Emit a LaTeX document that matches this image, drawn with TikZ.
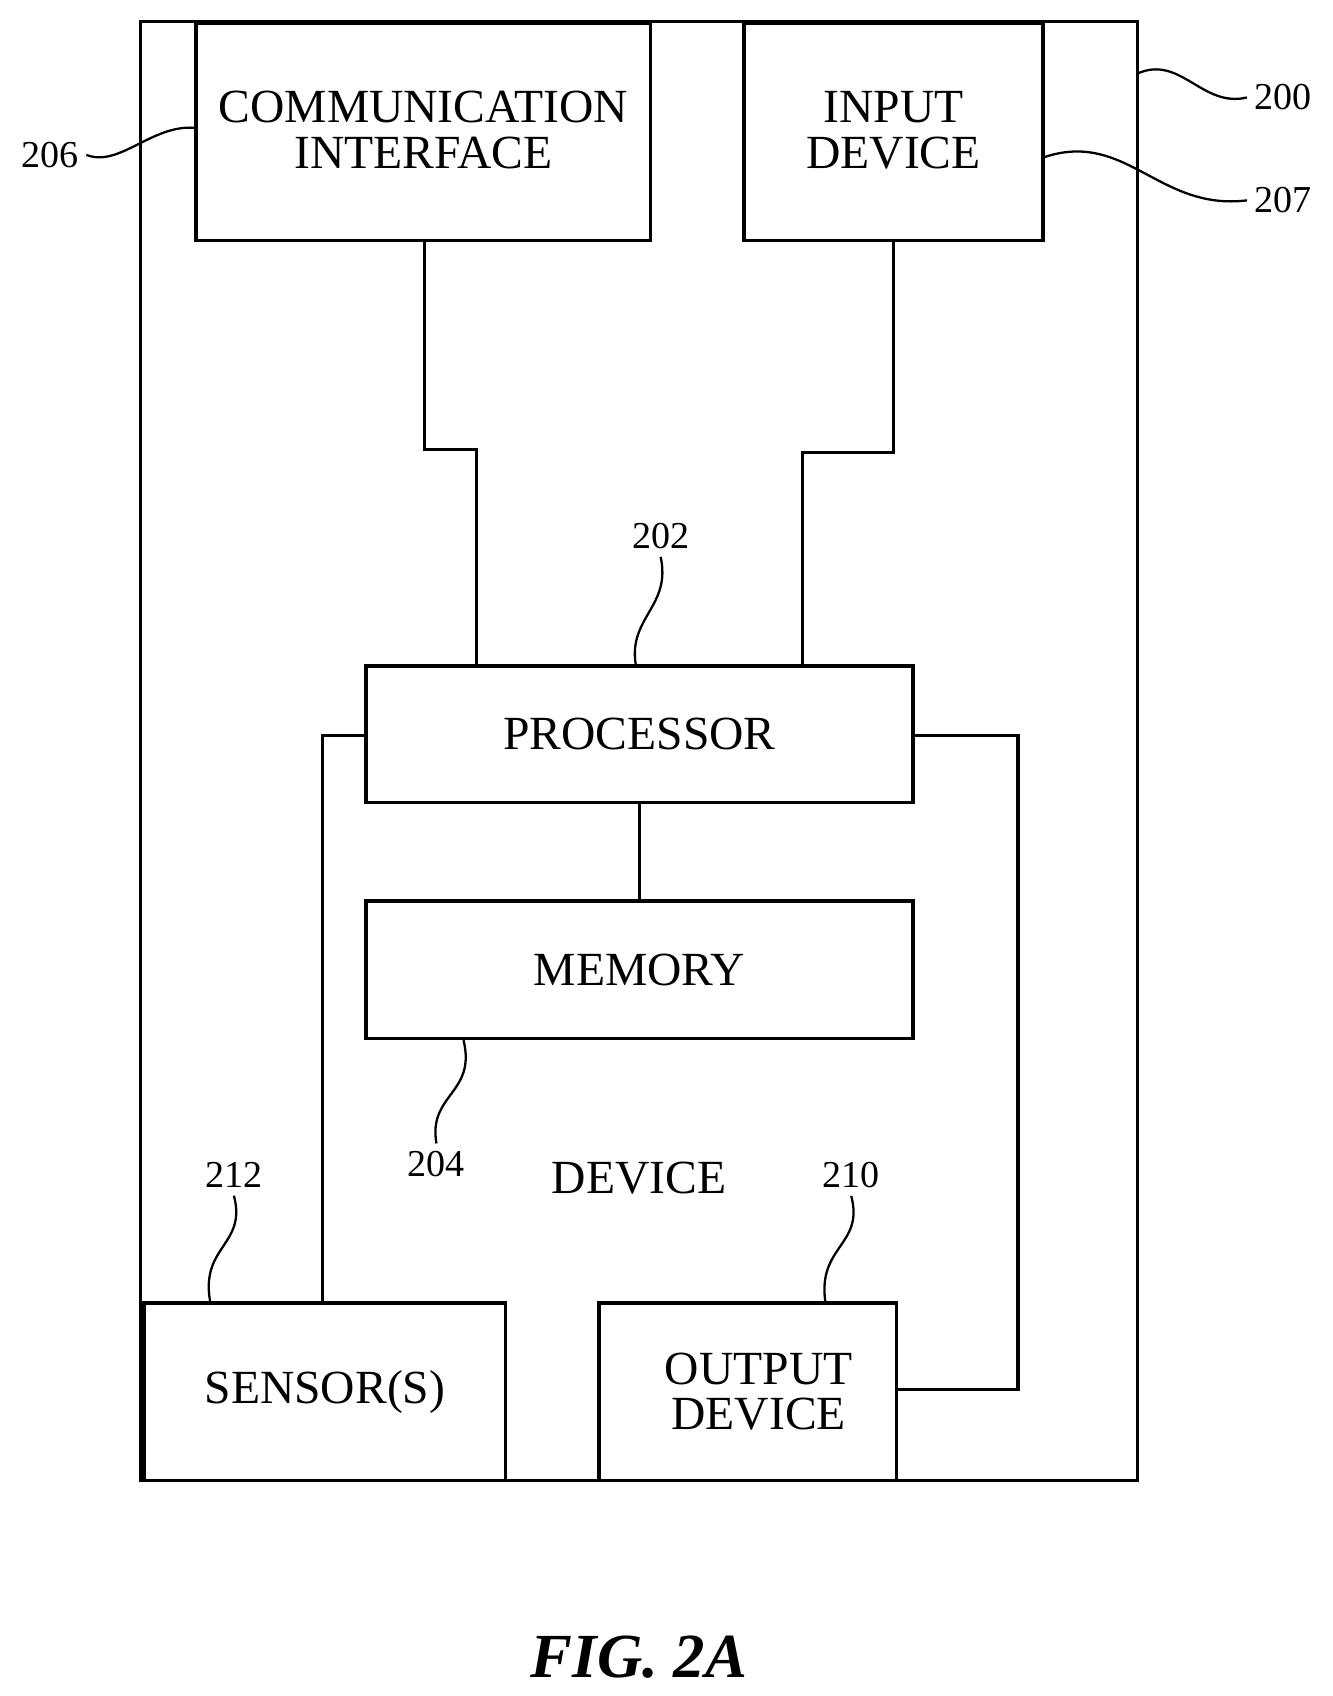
\documentclass[tikz,border=0pt]{standalone}
\usepackage{fontspec}
\setmainfont{Liberation Serif}
\begin{document}
\begin{tikzpicture}[x=0.02cm,y=-0.02cm,line width=1.7pt,
  box/.style={draw,inner sep=0pt,font=\fontsize{25}{24}\selectfont,align=center},
  txt/.style={inner sep=0pt,font=\fontsize{25}{24}\selectfont,align=center},
  lbl/.style={font=\fontsize{20}{22}\selectfont},
  lead/.style={line width=1.2pt}]
    \useasboundingbox (0,0) rectangle (1230,1566);

    \draw (130,20) rectangle (1050,1367); % device

    \node[box,minimum width=8.4cm,minimum height=4cm] (comm) at (391,122) {};
    \node[txt] (commtxt) at (391,120) {COMMUNICATION\\INTERFACE};
    \node[box,minimum width=5.52cm,minimum height=4cm] (inp) at (825,122) {};
    \node[txt] (inptxt) at (825,120) {INPUT\\DEVICE};
    \node[box,minimum width=10.1cm,minimum height=2.52cm] (proc) at (590.5,678) {PROCESSOR};
    \node[box,minimum width=10.1cm,minimum height=2.54cm] (mem) at (590.5,895.5) {MEMORY};
    \node[box,minimum width=6.68cm,minimum height=3.28cm] (sens) at (300,1285) {SENSOR(S)};
    \node[box,minimum width=5.5cm,minimum height=3.28cm] (outd) at (690.5,1285) {\hspace*{0.4cm}OUTPUT\\\hspace*{0.4cm}DEVICE};
    \node (dev) at (590,1088) [font=\fontsize{25}{27}\selectfont] {DEVICE};

    % wiring
    \draw (comm.south -| 392,0) -- (392,415) -- (440,415) -- (proc.north -| 440,0);
    \draw (inp.south) -- (825,418) -- (741,418) -- (proc.north -| 741,0);
    \draw (proc.west |- 0,679) -- (298,679) -- (sens.north -| 298,0);
    \draw (proc.east |- 0,679) -- (940,679) -- (940,1283) -- (outd.east |- 0,1283);
    \draw (proc) -- (mem);

    % reference numerals
    \node[lbl] (n206) at (46,143) {206};
    \draw[lead] (n206.east) .. controls (110,155) and (140,115) .. (comm.west |- 0,118);
    \node[lbl] (n200) at (1185,90) {200};
    \draw[lead] (1050,68) .. controls (1090,50) and (1110,100) .. (n200.west);
    \node[lbl] (n207) at (1185,185) {207};
    \draw[lead] (inp.east |- 0,145) .. controls (1040,120) and (1070,195) .. (n207.west);
    \node[lbl] (n202) at (610,495) {202};
    \draw[lead] (n202.south) .. controls (620,560) and (580,570) .. (proc.north -| 587,0);
    \node[lbl] (n204) at (403,1075) {204};
    \draw[lead] (mem.south -| 428,0) .. controls (440,1010) and (395,1010) .. (n204.north);
    \node[lbl] (n212) at (216,1085) {212};
    \draw[lead] (n212.south) .. controls (228,1150) and (185,1150) .. (sens.north -| 194,0);
    \node[lbl] (n210) at (786,1085) {210};
    \draw[lead] (n210.south) .. controls (798,1150) and (755,1150) .. (outd.north -| 762,0);

    \node (fig) at (590,1530) [font=\fontsize{33}{35}\selectfont\bfseries\itshape] {FIG. 2A};
\end{tikzpicture}
\end{document}
